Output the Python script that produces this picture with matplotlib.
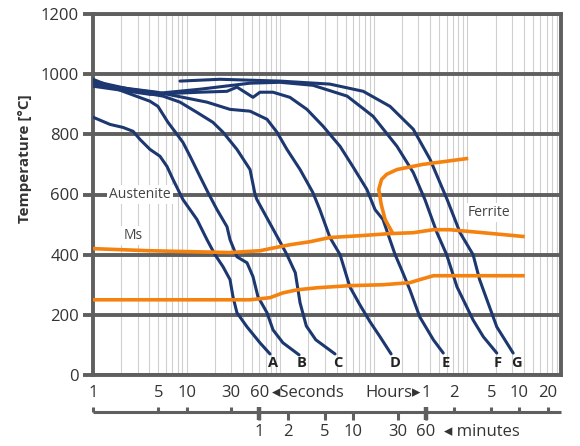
import numpy as np
import matplotlib
matplotlib.use('Agg')
import matplotlib.pyplot as plt
import matplotlib.transforms as mtransforms
from matplotlib.ticker import LogLocator, NullFormatter

plt.rcParams['font.family'] = ['Open Sans', 'DejaVu Sans']

# ---------------- data (time in seconds, temperature in deg C) ----------------
a_t = [1, 1.52, 2.09, 2.68, 3.18, 4.06, 5.2, 6.18, 7.16, 9.15, 12.9, 16.5, 20.1, 24.5, 29.1, 31.3, 34.5, 44.2, 60.8, 77.8]
a_T = [857, 833, 823, 810, 783, 750, 727, 693, 650, 583, 517, 450, 400, 360, 317, 260, 207, 160, 107, 70]

b_t = [1, 2.09, 4.06, 4.94, 6.32, 7.9, 9.15, 10.9, 13.9, 16.9, 21.1, 27.0, 29.1, 34.5, 44.2, 51.2, 57.9, 72.3, 83.8, 107, 159]
b_T = [983, 943, 910, 893, 840, 800, 773, 727, 660, 607, 550, 493, 450, 393, 373, 327, 260, 207, 150, 107, 67]

c_t = [1, 2.09, 5.6, 8.5, 12.9, 19.1, 24.5, 34.5, 47.6, 53.9, 56.4, 99.5, 118, 145, 163, 190, 240, 385]
c_T = [973, 950, 927, 907, 873, 840, 807, 750, 683, 600, 583, 443, 400, 340, 240, 163, 117, 70]

d_t = [1, 4.83, 9.15, 16.5, 29.1, 47.6, 72.3, 92.4, 118, 163, 223, 265, 340, 436, 555, 711, 911, 1166, 1530]
d_T = [967, 940, 923, 907, 883, 877, 850, 807, 750, 683, 607, 550, 457, 400, 293, 233, 177, 127, 70]

e_t = [1, 4.06, 13.9, 27.0, 34.5, 42.1, 51.2, 60.8, 83.8, 127, 193, 287, 436, 597, 843, 1030, 1253, 1690, 1980, 2430, 3100, 4330, 5520]
e_T = [960, 933, 940, 943, 957, 940, 923, 940, 940, 923, 883, 827, 760, 693, 617, 550, 517, 400, 350, 283, 193, 117, 73]

f_t = [1, 2.48, 5.2, 13.9, 47.6, 99.5, 224, 519, 982, 1770, 2640, 3520, 4730, 6000, 7740, 11500, 14800, 20600]
f_T = [977, 950, 937, 950, 970, 973, 963, 927, 860, 760, 673, 583, 473, 400, 293, 183, 127, 73]

g_t = [8.5, 22.7, 99.5, 339, 771, 1490, 2640, 3990, 6080, 8350, 11500, 13500, 20600, 30800]
g_T = [977, 983, 977, 967, 943, 893, 817, 717, 583, 473, 400, 317, 160, 73]

ms_t = [1, 4.06, 29.1, 60.8, 77.8, 127, 208, 340, 711, 1490, 2640, 4330, 6470, 14600, 41000]
ms_T = [420, 413, 407, 413, 420, 433, 443, 457, 463, 470, 473, 483, 483, 473, 460]

low_t = [1, 47.6, 77.8, 107, 151, 248, 555, 1250, 2430, 3100, 4330, 6470, 41000]
low_T = [250, 250, 257, 273, 283, 290, 297, 300, 307, 317, 330, 330, 330]

fer_t = [1600, 1320, 1200, 1130, 1210, 1370, 1770, 3330, 10200]
fer_T = [470, 517, 567, 617, 650, 667, 683, 700, 720]

curve_names = ['A', 'B', 'C', 'D', 'E', 'F', 'G']
name_t = [84, 171, 417, 1690, 5900, 21200, 33800]
name_T = 40

sec_ticks = [1, 5, 10, 30, 60]
hour_ticks = [1, 2, 5, 10, 20]
min_ticks = [1, 2, 5, 10, 30, 60]

# ---------------- styling ----------------
BLUE = '#1d3870'
ORANGE = '#f5820f'
GRID = '#5f5f5f'
TXT = '#333333'

fig = plt.figure(figsize=(5.8, 4.46), dpi=100)
ax = fig.add_axes([93 / 580, 1 - 375 / 446, 468 / 580, 361 / 446])
ax.set_xscale('log')
ax.set_xlim(1, 1e5)
ax.set_ylim(0, 1200)

ax.xaxis.set_major_locator(LogLocator(base=10, numticks=20))
ax.xaxis.set_minor_locator(LogLocator(base=10, subs=np.arange(2, 10), numticks=200))
ax.xaxis.set_minor_formatter(NullFormatter())
ax.tick_params(axis='x', which='both', length=0, labelbottom=False)
ax.grid(True, axis='x', which='both', color='#cfcfcf', lw=0.8)
ax.set_yticks(range(0, 1201, 200))
ax.grid(True, axis='y', which='major', color=GRID, lw=2.8)
ax.tick_params(axis='y', length=7, width=2.8, color=GRID, labelsize=12,
               labelcolor=TXT, pad=3)
ax.set_axisbelow(True)
for s in ax.spines.values():
    s.set_color(GRID)
    s.set_linewidth(2.8)

ax.set_ylabel('Temperature [°C]', fontsize=11, fontweight='bold', color=TXT)
ax.yaxis.set_label_coords(-0.130, 0.598)

# curves
for t, T in [(a_t, a_T), (b_t, b_T), (c_t, c_T), (d_t, d_T), (e_t, e_T), (f_t, f_T), (g_t, g_T)]:
    ax.plot(t, T, color=BLUE, lw=2.2, solid_joinstyle='round', solid_capstyle='round', zorder=3)
for t, T in [(ms_t, ms_T), (low_t, low_T), (fer_t, fer_T)]:
    ax.plot(t, T, color=ORANGE, lw=2.6, solid_joinstyle='round', solid_capstyle='butt', zorder=4)

for n, t in zip(curve_names, name_t):
    ax.text(t, name_T, n, fontsize=10.5, fontweight='bold', color='#222222',
            ha='center', va='center', zorder=5)

box = dict(facecolor='white', edgecolor='none', pad=1.5)
ax.text(3.18, 600, 'Austenite', fontsize=10, color='#444444', ha='center', va='center', bbox=box, zorder=2)
ax.text(2.67, 463, 'Ms', fontsize=10, color='#444444', ha='center', va='center', bbox=box, zorder=2)
ax.text(17000, 540, 'Ferrite', fontsize=10, color='#444444', ha='center', va='center', bbox=box, zorder=2)

# ---------------- bottom time scale ----------------
trans = mtransforms.blended_transform_factory(ax.transData, ax.transAxes)
y_line = -(412 - 375) / 361
up = 5 / 361
down = 8 / 361
y_top_lab = -(393 - 375) / 361
y_bot_lab = -(432 - 375) / 361
kw = dict(transform=trans, clip_on=False, color=GRID, solid_capstyle='butt')
ax.plot([1, 1e5], [y_line, y_line], lw=2.2, **kw)
for s in sec_ticks:
    ax.plot([s, s], [y_line, y_line + up], lw=2.2, **kw)
    ax.text(s, y_top_lab, str(s), transform=trans, fontsize=12, color=TXT, ha='center', va='center')
for h in hour_ticks:
    ax.plot([h * 3600, h * 3600], [y_line, y_line + up], lw=2.2, **kw)
    ax.text(h * 3600, y_top_lab, str(h), transform=trans, fontsize=12, color=TXT, ha='center', va='center')
for m in min_ticks:
    ax.plot([m * 60, m * 60], [y_line, y_line - down], lw=2.2, **kw)
    ax.text(m * 60, y_bot_lab, str(m), transform=trans, fontsize=12, color=TXT, ha='center', va='center')
ax.plot([60, 60], [y_line + up, y_line - down], lw=3.2, **kw)
ax.plot([3600, 3600], [y_line + up, y_line - down], lw=3.2, **kw)

ax.annotate('◂Seconds', xy=(60, y_top_lab), xycoords=trans, xytext=(9, 0),
            textcoords='offset points', fontsize=12, color=TXT, ha='left', va='center')
ax.annotate('Hours▸', xy=(3600, y_top_lab), xycoords=trans, xytext=(-4, 0),
            textcoords='offset points', fontsize=12, color=TXT, ha='right', va='center')
ax.annotate('◂ minutes', xy=(3600, y_bot_lab), xycoords=trans, xytext=(13, 0),
            textcoords='offset points', fontsize=12, color=TXT, ha='left', va='center')

fig.savefig('out.png', dpi=100)
